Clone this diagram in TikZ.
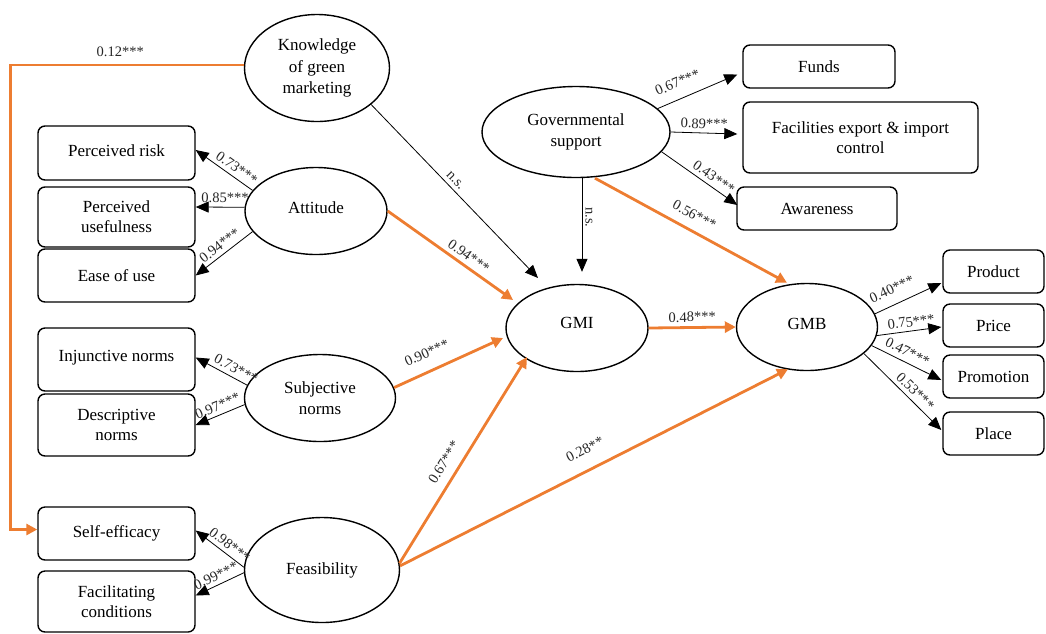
\documentclass[tikz,border=0pt]{standalone}
\usepackage{fontspec}
\setmainfont{Liberation Serif}
\usetikzlibrary{arrows.meta,shapes.geometric}
\definecolor{orangeC}{HTML}{ED7D31}
\newcommand{\boxfnt}{\fontsize{17}{20}\selectfont}
\newcommand{\labfnt}{\fontsize{14.5}{16}\selectfont}
\newcommand{\ellfnt}{\fontsize{17}{21.5}\selectfont}
\begin{document}
\begin{tikzpicture}[x=1pt,y=-1pt,
  box/.style={draw, line width=1.4pt, rounded corners=7pt, align=center, font=\boxfnt, inner sep=0pt},
  lat/.style={draw, ellipse, line width=1.4pt, align=center, font=\ellfnt, inner sep=0pt},
  blk/.style={line width=0.8pt, -{Triangle[length=13pt,width=11pt]}},
  org/.style={line width=2.8pt, draw=orangeC, -{Triangle[length=11pt,width=11pt]}},
  lab/.style={font=\labfnt, sloped, above=3pt, inner sep=1pt, text=black!85}]
\useasboundingbox (0,0) rectangle (1046,633);

% measured boxes
\node[box, minimum width=157pt, minimum height=54pt] (pr) at (116.5,153) {\raisebox{5pt}{Perceived risk}};
\node[box, minimum width=157pt, minimum height=60pt] (pu) at (116.5,217) {Perceived\\usefulness};
\node[box, minimum width=157pt, minimum height=53pt] (eu) at (116.5,275.5) {Ease of use};
\node[box, minimum width=157pt, minimum height=63pt] (inj) at (116.5,359.5) {\raisebox{7pt}{Injunctive norms}};
\node[box, minimum width=157pt, minimum height=62pt] (desc) at (116.5,425) {Descriptive\\norms};
\node[box, minimum width=157pt, minimum height=53pt] (se) at (116.5,533.5) {\raisebox{4pt}{Self-efficacy}};
\node[box, minimum width=157pt, minimum height=61pt] (fc) at (116.5,601.5) {Facilitating\\conditions};

\node[box, minimum width=152pt, minimum height=43pt] (funds) at (819,66.5) {Funds};
\node[box, minimum width=235pt, minimum height=71pt] (fac) at (860.5,137.5) {Facilities export \& import\\control};
\node[box, minimum width=160pt, minimum height=43pt] (aw) at (817,208.5) {Awareness};

\node[box, minimum width=101pt, minimum height=43pt] (prod) at (993.5,271.5) {Product};
\node[box, minimum width=101pt, minimum height=43pt] (price) at (993.5,325.5) {Price};
\node[box, minimum width=101pt, minimum height=43pt] (promo) at (993.5,376.5) {Promotion};
\node[box, minimum width=101pt, minimum height=43pt] (place) at (993.5,433.5) {Place};

% latent ellipses
\node[lat, minimum width=145pt, minimum height=107pt] (kn) at (317,68) {Knowledge\\of green\\marketing};
\node[lat, minimum width=142pt, minimum height=87pt] (att) at (316,211) {\raisebox{6pt}{Attitude}};
\node[lat, minimum width=151pt, minimum height=87pt] (sn) at (320,398) {Subjective\\norms};
\node[lat, minimum width=155pt, minimum height=105pt] (fe) at (322,570) {Feasibility};
\node[lat, minimum width=188pt, minimum height=91pt] (gov) at (576,132) {Governmental\\support};
\node[lat, minimum width=142pt, minimum height=87pt] (gmi) at (577,328) {\raisebox{10pt}{GMI}};
\node[lat, minimum width=141pt, minimum height=87pt] (gmb) at (807,327) {\raisebox{7pt}{GMB}};

% knowledge -> self-efficacy
\draw[org] ([yshift=3pt]kn.west) -- ++(-233,0) node[pos=0.53, above=4pt, font=\labfnt, text=black!85]{0.12***} |- ([yshift=4pt]se.west);

% measurement arrows (left)
\draw[blk] (att.162) -- ([yshift=3pt]pr.east) node[lab,pos=0.37]{0.73***};
\draw[blk] (att.177) -- ([yshift=10pt]pu.east) node[lab,pos=0.4]{0.85***};
\draw[blk] (att.198) -- (eu.east) node[lab,pos=0.48]{0.94***};
\draw[blk] (sn.170) -- ([yshift=2pt]inj.east) node[lab,pos=0.3]{0.73***};
\draw[blk] (sn.185) -- (desc.east) node[lab,pos=0.48]{0.97***};
\draw[blk] (fe.178) -- ([yshift=3pt]se.east) node[lab,pos=0.41]{0.98***};
\draw[blk] (fe.182) -- ([yshift=6pt]fc.east) node[lab,pos=0.5,above=0pt]{0.99***};

% governmental support indicators
\draw[blk] (gov.16) -- ([xshift=-5pt,yshift=-8pt]funds.west) node[lab,pos=0.33,above=7pt]{0.67***};
\draw[blk] (gov.east) -- ([xshift=-5pt,yshift=3.5pt]fac.west) node[lab,pos=0.5]{0.89***};
\draw[blk] (gov.-13) -- ([xshift=1pt,yshift=3.5pt]aw.west) node[lab,pos=0.62]{0.43***};

% GMB indicators
\draw[blk] (gmb.11) -- ([xshift=-1pt,yshift=-11.5pt]prod.west) node[lab,pos=0.35,above=6pt]{0.40***};
\draw[blk] (gmb.-7) -- ([xshift=-1pt,yshift=-1.5pt]price.west) node[lab,pos=0.55]{0.75***};
\draw[blk] (gmb.-16) -- ([xshift=-1pt,yshift=-3.5pt]promo.west) node[lab,pos=0.45,above=1pt]{0.47***};
\draw[blk] (gmb.-25) -- ([xshift=-1pt,yshift=3.5pt]place.west) node[lab,pos=0.58]{0.53***};

% structural paths
\draw[blk] (kn.-34) -- ([xshift=-39pt,yshift=50pt]gmi.center) node[lab,pos=0.47]{n.s.};
\draw[blk] ([xshift=6pt]gov.south) -- ([xshift=5pt,yshift=12pt]gmi.north) node[pos=0.42, anchor=south, rotate=-90, font=\labfnt, text=black!85, inner sep=3pt]{n.s.};
\draw[org] ([xshift=19pt]gov.south) -- ([xshift=-20pt]gmb.north) node[lab,pos=0.48,above=5pt]{0.56***};
\draw[org] (att.east) -- ([xshift=-64pt,yshift=28pt]gmi.center) node[lab,pos=0.6]{0.94***};
\draw[org] (sn.8) -- ([xshift=-74pt,yshift=-10pt]gmi.center) node[lab,pos=0.37,above=8pt]{0.90***};
\draw[org] (fe.5) -- ([xshift=-50pt,yshift=-29pt]gmi.center) node[lab,pos=0.45,above=5pt]{0.67***};
\draw[org] (fe.3) -- ([xshift=-19pt,yshift=2pt]gmb.south) node[lab,pos=0.5,above=10pt]{0.28**};
\draw[org] (gmi.east) -- (gmb.west) node[lab,pos=0.5]{0.48***};
\end{tikzpicture}
\end{document}
